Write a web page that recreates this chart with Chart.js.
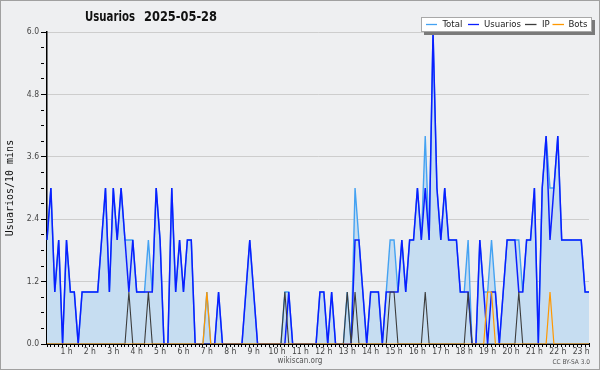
<!DOCTYPE html>
<html><head><meta charset="utf-8">
<script src="https://cdn.jsdelivr.net/npm/chart.js@4.4.1/dist/chart.umd.min.js"></script>
<style>html,body{margin:0;padding:0;background:#eeeff1;}canvas{display:block;}</style>
</head><body>
<canvas id="c" width="600" height="370"></canvas>
<script>
const chartTitle = 'Usuarios';
const chartDate = '2025-05-28';
const yAxisTitle = 'Usuarios/10 mins';
const seriesNames = ['Total', 'Usuarios', 'IP', 'Bots'];
const hourLabels = ['1 h','2 h','3 h','4 h','5 h','6 h','7 h','8 h','9 h','10 h','11 h','12 h',
  '13 h','14 h','15 h','16 h','17 h','18 h','19 h','20 h','21 h','22 h','23 h'];
const yTickLabels = [0, 1.2, 2.4, 3.6, 4.8, 6.0];

// 10-minute slots, one row = 2 hours
const usuarios = [
  2,3,1,2,0,2,1,1,0,1,1,1,
  1,1,2,3,1,3,2,3,2,1,2,1,
  1,1,1,1,3,2,0,0,3,1,2,1,
  2,2,0,0,0,0,0,0,1,0,0,0,
  0,0,0,1,2,1,0,0,0,0,0,0,
  0,0,1,0,0,0,0,0,0,0,1,1,
  0,1,0,0,0,0,0,2,2,1,0,1,
  1,1,0,1,1,1,1,2,1,2,2,3,
  2,3,2,6,3,2,3,2,2,2,1,1,
  1,0,0,2,1,0,1,1,0,1,2,2,
  2,1,1,2,2,3,0,3,4,2,3,4,
  2,2,2,2,2,2,1,1
];
const ip = [
  0,0,0,0,0,0,0,0,0,0,0,0,
  0,0,0,0,0,0,0,0,0,1,0,0,
  0,0,1,0,0,0,0,0,0,0,0,0,
  0,0,0,0,0,0,0,0,0,0,0,0,
  0,0,0,0,0,0,0,0,0,0,0,0,
  0,1,0,0,0,0,0,0,0,0,0,0,
  0,0,0,0,0,1,0,1,0,0,0,0,
  0,0,0,0,1,1,0,0,0,0,0,0,
  0,1,0,0,0,0,0,0,0,0,0,0,
  1,0,0,0,0,0,0,0,0,0,0,0,
  0,1,0,0,0,0,0,0,0,0,0,0,
  0,0,0,0,0,0,0,0
];
const bots = [
  0,0,0,0,0,0,0,0,0,0,0,0,
  0,0,0,0,0,0,0,0,0,0,0,0,
  0,0,0,0,0,0,0,0,0,0,0,0,
  0,0,0,0,0,1,0,0,0,0,0,0,
  0,0,0,0,0,0,0,0,0,0,0,0,
  0,0,0,0,0,0,0,0,0,0,0,0,
  0,0,0,0,0,0,0,0,0,0,0,0,
  0,0,0,0,0,0,0,0,0,0,0,0,
  0,0,0,0,0,0,0,0,0,0,0,0,
  0,0,0,0,0,1,1,0,0,0,0,0,
  0,0,0,0,0,0,0,0,0,1,0,0,
  0,0,0,0,0,0,0,0
];
const total = [
  2,3,1,2,0,2,1,1,0,1,1,1,
  1,1,2,3,1,3,2,3,2,2,2,1,
  1,1,2,1,3,2,0,0,3,1,2,1,
  2,2,0,0,0,1,0,0,1,0,0,0,
  0,0,0,1,2,1,0,0,0,0,0,0,
  0,1,1,0,0,0,0,0,0,0,1,1,
  0,1,0,0,0,1,0,3,2,1,0,1,
  1,1,0,1,2,2,1,2,1,2,2,3,
  2,4,2,6,3,2,3,2,2,2,1,1,
  2,0,0,2,1,1,2,1,0,1,2,2,
  2,2,1,2,2,3,0,3,4,3,3,4,
  2,2,2,2,2,2,1,1
];

// time categories (00:10, 00:20, ...)
const categories = [];
for (let i = 0; i < usuarios.length; i++) {
  const m = (i + 1) * 10;
  categories.push(String(Math.floor(m / 60)).padStart(2, '0') + ':' + String(m % 60).padStart(2, '0'));
}
const yMinorTicks = [];
for (let k = 0; k <= 20; k++) yMinorTicks.push(Math.round(k * 3) / 10);

const colors = { Total: '#44a2f2', Usuarios: '#0a1eff', IP: '#3c3c3c', Bots: '#ff9800' };
const FONT = "'DejaVu Sans Condensed', 'DejaVu Sans', sans-serif";
const isMajor = v => yTickLabels.some(t => Math.abs(t - v) < 1e-6);

const deco = {
  id: 'deco',
  beforeDraw(chart) {
    const c = chart.ctx;
    c.save();
    c.fillStyle = '#eeeff1';
    c.fillRect(0, 0, chart.width, chart.height);
    c.restore();
  },
  afterDraw(chart) {
    const c = chart.ctx;
    c.save();
    // title
    c.fillStyle = '#111';
    c.textBaseline = 'alphabetic';
    c.textAlign = 'left';
    c.font = "bold 13.5px 'DejaVu Sans', sans-serif";
    c.fillText(chartTitle, 85, 21, 50);
    c.fillText(chartDate, 144, 21, 73);
    // legend box
    c.fillStyle = '#7a7a7a';
    c.fillRect(424, 20, 171, 15);
    c.fillStyle = '#ffffff';
    c.fillRect(421, 17, 171, 15);
    c.strokeStyle = '#a8a8a8';
    c.lineWidth = 1;
    c.strokeRect(421.5, 17.5, 170, 14);
    const items = [
      { name: seriesNames[0], x1: 426, x2: 437, tx: 442.5 },
      { name: seriesNames[1], x1: 468, x2: 479, tx: 484 },
      { name: seriesNames[2], x1: 525, x2: 536.5, tx: 542 },
      { name: seriesNames[3], x1: 552.5, x2: 564, tx: 568.5 }
    ];
    c.font = "9.5px " + FONT;
    c.textBaseline = 'middle';
    items.forEach(it => {
      c.strokeStyle = colors[it.name];
      c.lineWidth = 1.3;
      c.beginPath(); c.moveTo(it.x1, 24.5); c.lineTo(it.x2, 24.5); c.stroke();
      c.fillStyle = '#222';
      c.fillText(it.name, it.tx, 25);
    });
    // footer
    c.fillStyle = '#555';
    c.textAlign = 'center';
    c.font = "8px " + FONT;
    c.fillText('wikiscan.org', 300, 361, 48);
    c.textAlign = 'right';
    c.font = "6.5px " + FONT;
    c.fillText('CC BY-SA 3.0', 590, 362);
    // outer border
    c.strokeStyle = '#a0a0a0';
    c.lineWidth = 1;
    c.strokeRect(0.5, 0.5, chart.width - 1, chart.height - 1);
    c.restore();
  }
};

new Chart(document.getElementById('c'), {
  type: 'line',
  data: {
    labels: categories,
    datasets: [
      { label: seriesNames[0], data: total, borderColor: colors.Total, backgroundColor: '#c6ddf1',
        fill: 'origin', borderWidth: 1.4, pointRadius: 0, tension: 0, order: 4 },
      { label: seriesNames[1], data: usuarios, borderColor: colors.Usuarios, borderWidth: 1.5,
        fill: false, pointRadius: 0, tension: 0, order: 3 },
      { label: seriesNames[2], data: ip, borderColor: colors.IP, borderWidth: 1.1,
        fill: false, pointRadius: 0, tension: 0, order: 2 },
      { label: seriesNames[3], data: bots, borderColor: colors.Bots, borderWidth: 1.2,
        fill: false, pointRadius: 0, tension: 0, order: 1 }
    ]
  },
  options: {
    responsive: false,
    animation: false,
    devicePixelRatio: 1,
    layout: { padding: { top: 32, right: 11, bottom: 0, left: 0 } },
    plugins: { legend: { display: false }, title: { display: false }, tooltip: { enabled: false } },
    scales: {
      x: {
        type: 'category',
        offset: false,
        z: 1,
        afterFit: s => { s.height = 26; },
        ticks: {
          autoSkip: false, maxRotation: 0, minRotation: 0, padding: 0,
          color: '#444', font: { family: FONT, size: 8.5 },
          callback: function (val, idx) {
            const lab = categories[idx];
            if (lab.endsWith(':00')) {
              const h = parseInt(lab.slice(0, 2), 10);
              return hourLabels[h - 1] || '';
            }
            return '';
          }
        },
        grid: { drawOnChartArea: false, drawTicks: true, tickLength: 3, tickColor: '#000', tickWidth: 1 },
        border: { display: true, color: '#000', width: 2 }
      },
      y: {
        min: 0, max: 6,
        z: 1,
        afterFit: s => { s.width = 47; },
        afterBuildTicks: s => { s.ticks = yMinorTicks.map(v => ({ value: v })); },
        ticks: {
          autoSkip: false, padding: 2, color: '#444', font: { family: FONT, size: 8.5 },
          callback: v => {
            const m = yTickLabels.find(t => Math.abs(t - v) < 1e-6);
            return m === undefined ? '' : m.toFixed(1);
          }
        },
        grid: {
          color: c => (c.tick && isMajor(c.tick.value) && c.tick.value > 0) ? '#cdcdcd' : 'rgba(0,0,0,0)',
          lineWidth: 1,
          tickLength: 6,
          tickColor: '#000',
          tickWidth: 1,
          tickBorderDash: c => (c.tick && isMajor(c.tick.value)) ? [] : [3, 20]
        },
        border: { display: true, color: '#000', width: 1.5 },
        title: {
          display: true, text: yAxisTitle, color: '#111',
          font: { family: "'DejaVu Sans Mono', monospace", size: 10 },
          padding: { top: 4, bottom: 0 }
        }
      }
    }
  },
  plugins: [deco]
});
</script>
</body></html>
